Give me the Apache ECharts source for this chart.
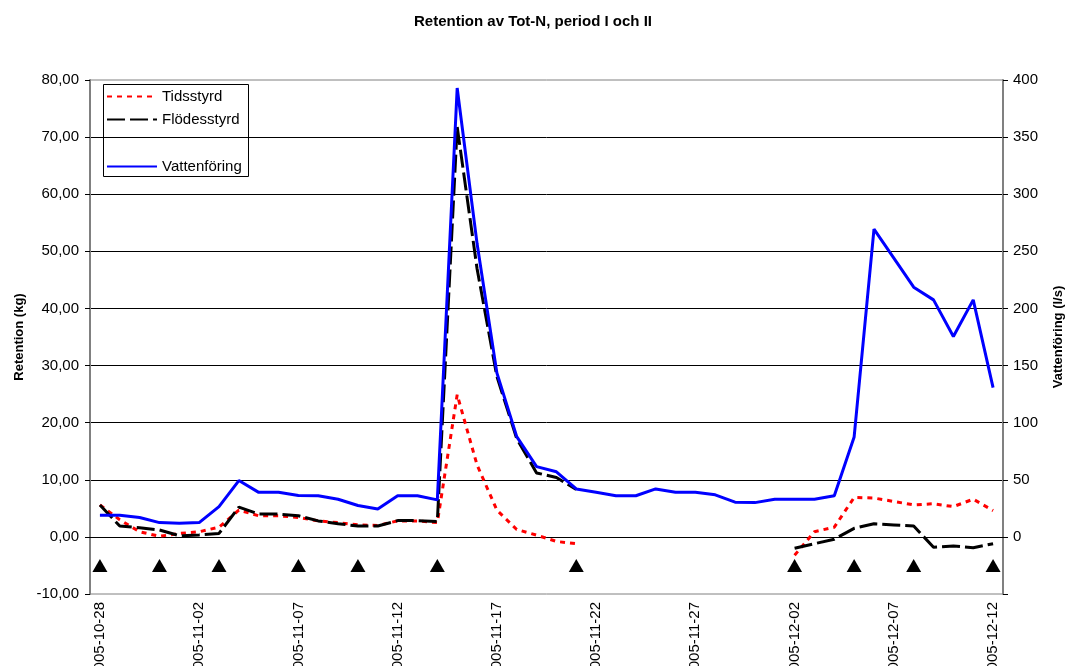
<!DOCTYPE html>
<html>
<head>
<meta charset="utf-8">
<title>Retention av Tot-N</title>
<script src="https://cdn.jsdelivr.net/npm/echarts@6/dist/echarts.min.js"></script>
<style>
  html, body { margin: 0; padding: 0; background: #fff; }
  #chart { width: 1066px; height: 666px; }
</style>
</head>
<body>
<div id="chart"></div>
<script>
// datum 2005-10-28 .. 2005-12-12
const dates = [
  '2005-10-28', '2005-10-29', '2005-10-30', '2005-10-31', '2005-11-01', '2005-11-02',
  '2005-11-03', '2005-11-04', '2005-11-05', '2005-11-06', '2005-11-07', '2005-11-08',
  '2005-11-09', '2005-11-10', '2005-11-11', '2005-11-12', '2005-11-13', '2005-11-14',
  '2005-11-15', '2005-11-16', '2005-11-17', '2005-11-18', '2005-11-19', '2005-11-20',
  '2005-11-21', '2005-11-22', '2005-11-23', '2005-11-24', '2005-11-25', '2005-11-26',
  '2005-11-27', '2005-11-28', '2005-11-29', '2005-11-30', '2005-12-01', '2005-12-02',
  '2005-12-03', '2005-12-04', '2005-12-05', '2005-12-06', '2005-12-07', '2005-12-08',
  '2005-12-09', '2005-12-10', '2005-12-11', '2005-12-12'
]

// Retention (kg)
const tidsstyrd = [
  5.6, 3.0, 0.9, 0.1, 0.6, 0.9, 1.7, 4.7, 3.7, 3.7, 3.4, 2.8,
  2.5, 2.1, 2.0, 2.8, 2.8, 2.5, 24.9, 12.6, 4.7, 1.3, 0.3, -0.8,
  -1.2, null, null, null, null, null, null, null, null, null, null, -3.2,
  0.9, 1.7, 6.9, 6.8, 6.2, 5.6, 5.8, 5.3, 6.6, 4.6
]
const flodesstyrd = [
  5.6, 1.9, 1.6, 1.2, 0.2, 0.35, 0.6, 5.2, 4.0, 4.0, 3.7, 2.8,
  2.3, 1.9, 1.9, 2.85, 2.85, 2.7, 71.8, 47, 28.1, 17.2, 11.2, 10.4,
  8.3, null, null, null, null, null, null, null, null, null, null, -2.0,
  -1.2, -0.4, 1.5, 2.3, 2.1, 1.9, -1.8, -1.6, -1.9, -1.2
]
// Vattenföring (l/s)
const vattenforing = [
  19, 19, 17, 12.5, 12, 12.5, 26.5, 49.3, 39, 39, 36.2, 36,
  33, 27.5, 24.5, 36, 36, 32.4, 393, 257, 143.6, 87.8, 61.5, 57,
  42, 39, 36, 36, 42, 39, 39, 36.8, 30.4, 30, 33, 33,
  33, 36, 87.5, 269.4, 244, 218.6, 207.5, 175.4, 207.5, 130.7
]
// provtagningstillfällen (trianglar)
const markerDates = [
  '2005-10-28', '2005-10-31', '2005-11-03', '2005-11-07', '2005-11-10', '2005-11-14',
  '2005-11-21', '2005-12-02', '2005-12-05', '2005-12-08', '2005-12-12'
]
const markerLevel = -5

const FONT = '"Liberation Sans", Arial, sans-serif'
const chart = echarts.init(document.getElementById('chart'))

const legendText = { fontFamily: FONT, fontSize: 15, color: '#000' }

const option = {
  animation: false,
  backgroundColor: '#fff',
  textStyle: { fontFamily: FONT, color: '#000' },
  title: {
    text: 'Retention av Tot-N, period I och II',
    left: 'center',
    top: 9,
    textStyle: { fontFamily: FONT, fontSize: 15, fontWeight: 'bold', color: '#000' }
  },
  grid: {
    left: 90, right: 63, top: 80, bottom: 72,
    outerBoundsMode: 'none',
    containLabel: false,
    show: true, borderColor: '#808080', borderWidth: 1
  },
  legend: [{
    orient: 'vertical',
    left: 101, top: 84,
    itemWidth: 50, itemHeight: 15, itemGap: 8,
    itemStyle: { opacity: 0 },
    data: ['Tidsstyrd', 'Flödesstyrd'],
    textStyle: legendText
  }, {
    orient: 'vertical',
    left: 101, top: 154,
    itemWidth: 50, itemHeight: 15,
    itemStyle: { opacity: 0 },
    data: ['Vattenföring'],
    textStyle: legendText
  }],
  graphic: [{
    type: 'rect',
    shape: { x: 103.5, y: 84.5, width: 145, height: 92 },
    style: { fill: 'none', stroke: '#000', lineWidth: 1 },
    z: 100
  }],
  xAxis: [{
    type: 'category',
    data: dates,
    position: 'bottom',
    axisLine: { onZero: true, lineStyle: { color: '#000', width: 1 } },
    axisTick: { interval: 0, length: 5, lineStyle: { color: '#000' } },
    axisLabel: { show: false },
    splitLine: { show: false }
  }, {
    type: 'category',
    data: dates,
    position: 'bottom',
    axisLine: { show: false, onZero: false },
    axisTick: { show: false },
    axisLabel: {
      interval: 4, rotate: 90, margin: 8,
      fontFamily: FONT, fontSize: 15, color: '#000'
    },
    splitLine: { show: false }
  }],
  yAxis: [{
    type: 'value',
    min: -10, max: 80, interval: 10,
    name: 'Retention (kg)',
    nameLocation: 'middle',
    nameGap: 64,
    nameTextStyle: { fontFamily: FONT, fontSize: 13, fontWeight: 'bold', color: '#000' },
    axisLine: { show: true, lineStyle: { color: '#808080', width: 2 } },
    axisTick: { show: true, length: 5, lineStyle: { color: '#000' } },
    axisLabel: {
      fontFamily: FONT, fontSize: 15, color: '#000', margin: 11,
      formatter: (v) => v.toFixed(2).replace('.', ',')
    },
    splitLine: { show: true, showMinLine: false, showMaxLine: false, lineStyle: { color: '#000', width: 1 } }
  }, {
    type: 'value',
    min: -50, max: 400, interval: 50,
    position: 'right',
    name: 'Vattenföring (l/s)',
    nameLocation: 'middle',
    nameGap: 49,
    nameTextStyle: { fontFamily: FONT, fontSize: 13, fontWeight: 'bold', color: '#000' },
    axisLine: { show: true, lineStyle: { color: '#808080', width: 2 } },
    axisTick: { show: true, length: 5, lineStyle: { color: '#000' } },
    axisLabel: {
      fontFamily: FONT, fontSize: 15, color: '#000', margin: 10,
      formatter: (v) => (v < 0 ? '' : String(v))
    },
    splitLine: { show: false }
  }],
  series: [{
    name: 'Tidsstyrd',
    type: 'line',
    data: tidsstyrd,
    symbol: 'none',
    connectNulls: false,
    color: '#ff0000',
    lineStyle: { color: '#ff0000', width: 3, type: [5, 5] },
    z: 3
  }, {
    name: 'Flödesstyrd',
    type: 'line',
    data: flodesstyrd,
    symbol: 'none',
    connectNulls: false,
    color: '#000',
    lineStyle: { color: '#000', width: 3, type: [18, 5] },
    z: 4
  }, {
    name: 'Vattenföring',
    type: 'line',
    yAxisIndex: 1,
    data: vattenforing,
    symbol: 'none',
    color: '#0000ff',
    lineStyle: { color: '#0000ff', width: 3 },
    z: 5
  }, {
    name: 'Prov',
    type: 'scatter',
    data: markerDates.map((d) => [d, markerLevel]),
    symbol: 'triangle',
    symbolSize: [15, 13],
    itemStyle: { color: '#000', opacity: 1 },
    z: 6
  }]
}

chart.setOption(option)
</script>
</body>
</html>
